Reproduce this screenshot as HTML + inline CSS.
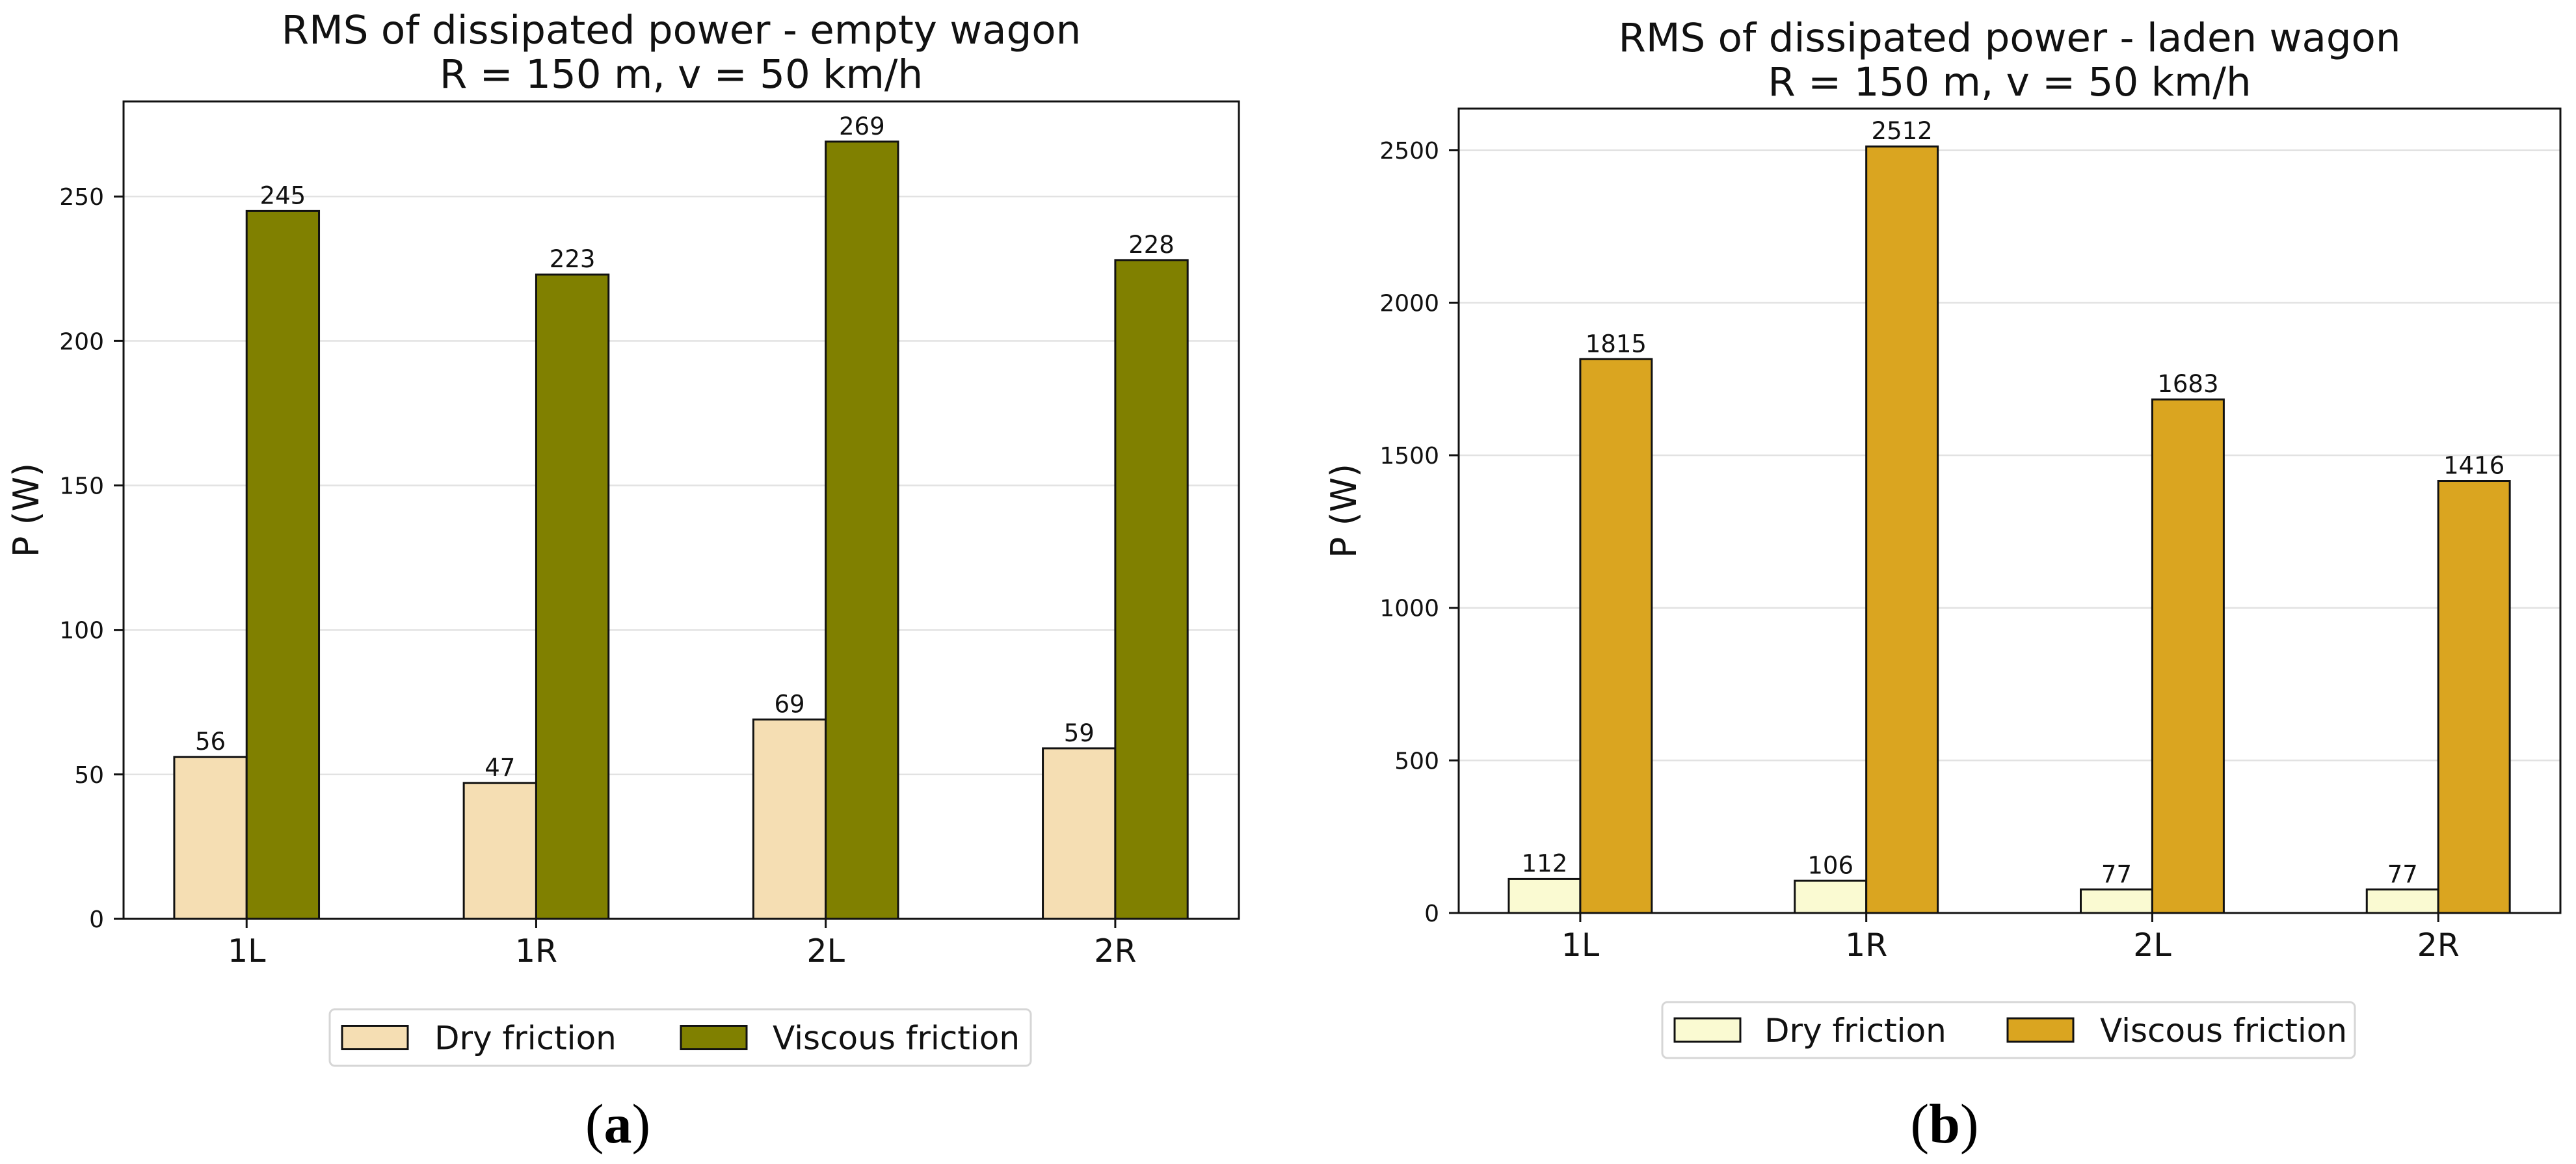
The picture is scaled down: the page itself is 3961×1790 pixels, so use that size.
<!DOCTYPE html>
<html><head><meta charset="utf-8">
<style>
html,body{margin:0;padding:0;background:#fff;}
svg{display:block;font-family:"DejaVu Sans","Liberation Sans",sans-serif;}
</style></head>
<body>
<svg id="fig" width="3961" height="1790" viewBox="0 0 3961 1790" xmlns="http://www.w3.org/2000/svg"></svg>
<script>
const categories = ["1L","1R","2L","2R"];
const dryEmpty = [56,47,69,59];
const viscEmpty = [245,223,269,228];
const dryLaden = [112,106,77,77];
const viscLaden = [1815,2512,1683,1416];
const ticksEmpty = [0,50,100,150,200,250];
const ticksLaden = [0,500,1000,1500,2000,2500];
const seriesNames = ["Dry friction","Viscous friction"];

const NS="http://www.w3.org/2000/svg";
const svg=document.getElementById('fig');
function mk(tag,attrs,parent,text){const e=document.createElementNS(NS,tag);for(const k in attrs)e.setAttribute(k,attrs[k]);if(text!==undefined)e.textContent=text;(parent||svg).appendChild(e);return e;}

function chart(o){
  const g=mk('g',{});
  
  
  const L=o.left,R=o.right,T=o.top,B=o.bottom;
  const unit=(R-L)/(3+0.425+0.427);
  const x=i=>L+(0.425+i)*unit;
  const y=v=>B-(v/o.ymax)*(B-T);
  // grid
  o.ticks.forEach(t=>{
    const gl=mk('line',{x1:L,x2:R,y1:y(t),y2:y(t),stroke:'#e2e2e2','stroke-width':2.5},g);
    
    
    const tk=mk('line',{x1:L-15,x2:L,y1:y(t),y2:y(t),stroke:'#111','stroke-width':3},g);
    
    
    const tl=mk('text',{x:L-30,y:y(t)+13,'text-anchor':'end','font-size':36,fill:'#111'},g,String(t));
    
    
  });
  const bw=unit*0.25;
  categories.forEach((c,i)=>{
    const cx=x(i);
    [[o.dry,o.c1,-1],[o.visc,o.c2,0]].forEach(([arr,col,off],s)=>{
      const v=arr[i];
      const r=mk('rect',{x:cx+off*bw,y:y(v),width:bw,height:B-y(v),fill:col,stroke:'#111','stroke-width':3},g);
      
      
      const vl=mk('text',{x:cx+off*bw+bw/2,y:y(v)-11,'text-anchor':'middle','font-size':37,fill:'#111'},g,String(v));
      
      
    });
    const xt=mk('line',{x1:cx,x2:cx,y1:B,y2:B+14,stroke:'#111','stroke-width':3},g);
    
    
    const xl=mk('text',{x:cx,y:B+o.xlabOff,'text-anchor':'middle','font-size':49,fill:'#111'},g,c);
    
    
  });
  const fr=mk('rect',{x:L,y:T,width:R-L,height:B-T,fill:'none',stroke:'#111','stroke-width':3},g);
  
  
  const cxm=(L+R)/2;
  const t1=mk('text',{x:cxm,y:o.tb1,'text-anchor':'middle','font-size':61,fill:'#111'},g,o.title);
  
  
  const t2=mk('text',{x:cxm,y:o.tb1+68,'text-anchor':'middle','font-size':61,fill:'#111'},g,'R = 150 m, v = 50 km/h');
  
  
  const ym=(T+B)/2;
  const yl=mk('text',{x:o.ylx,y:ym,'text-anchor':'middle','font-size':54,fill:'#111',transform:`rotate(-90 ${o.ylx} ${ym})`,dy:'0.35em'},g,'P (W)');
  
  
  // legend
  const lg=mk('g',{},g);
  
  
  mk('rect',{x:o.lg[0],y:o.lg[1],width:o.lg[2]-o.lg[0],height:o.lg[3]-o.lg[1],rx:8,fill:'#fff',stroke:'#d6d6d6','stroke-width':3},lg);
  const cy=(o.lg[1]+o.lg[3])/2;
  [[o.sw1,o.tx1,o.c1,0],[o.sw2,o.tx2,o.c2,1]].forEach(([sx,tx,col,k])=>{
    const e=mk('g',{},lg);
    
    
    mk('rect',{x:sx,y:cy-18,width:101,height:36,fill:col,stroke:'#111','stroke-width':3},e);
    mk('text',{x:tx,y:cy+18,'font-size':50,fill:'#111'},e,seriesNames[k]);
  });
  const pl=mk('text',{x:o.px,y:1757,'text-anchor':'middle','font-size':86,'font-family':'"Liberation Serif",serif',fill:'#000'},g);
  
  
  mk('tspan',{},pl,'(');
  mk('tspan',{'font-weight':'bold'},pl,o.panel);
  mk('tspan',{},pl,')');
}

chart({name:'empty-wagon-chart',left:190,right:1905,top:156,bottom:1413,ymax:282.9,ticks:ticksEmpty,
  dry:dryEmpty,visc:viscEmpty,c1:'#F5DEB3',c2:'#808000',title:'RMS of dissipated power - empty wagon',tb1:67,
  ylx:40,xlabOff:66,lg:[507,1552,1585,1639],sw1:526,tx1:668,sw2:1047,tx2:1188,px:950,panel:'a'});
chart({name:'laden-wagon-chart',left:2243,right:3937,top:167,bottom:1404,ymax:2636,ticks:ticksLaden,
  dry:dryLaden,visc:viscLaden,c1:'#FAFAD2',c2:'#DAA520',title:'RMS of dissipated power - laden wagon',tb1:79,
  ylx:2066,xlabOff:66,lg:[2556,1541,3621,1627],sw1:2575,tx1:2713,sw2:3087,tx2:3229,px:2990,panel:'b'});
</script>
</body></html>
